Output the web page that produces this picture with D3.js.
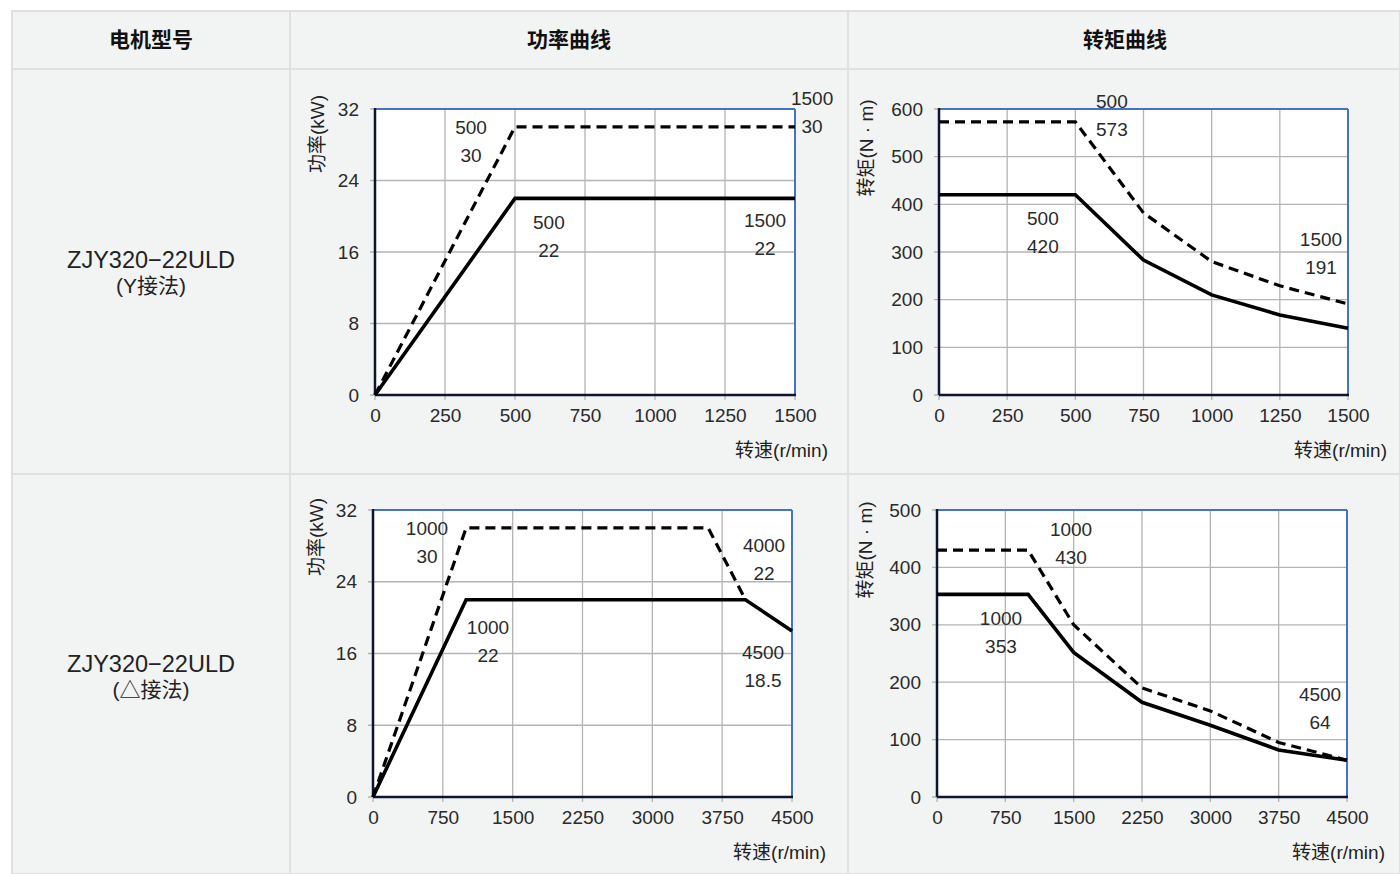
<!DOCTYPE html>
<html><head><meta charset="utf-8">
<script src="https://cdn.jsdelivr.net/npm/d3@7"></script>
<style>
html,body{margin:0;padding:0;background:#fff;}
svg{display:block;font-family:"Liberation Sans",Arial,"Noto Sans CJK SC",sans-serif;}
</style></head>
<body>
<svg id="c" width="1400" height="874"></svg>
<script>
// ---------- DATA ----------
const headers = ["电机型号", "功率曲线", "转矩曲线"];
const models = [["ZJY320\u221222ULD", "(Y接法)"], ["ZJY320\u221222ULD", "(\u25B3接法)"]];

const xTicksY = [0, 250, 500, 750, 1000, 1250, 1500];
const xTicksD = [0, 750, 1500, 2250, 3000, 3750, 4500];
const yTicksPower = [0, 8, 16, 24, 32];
const yTicksTorqueY = [0, 100, 200, 300, 400, 500, 600];
const yTicksTorqueD = [0, 100, 200, 300, 400, 500];

// Power, Y connection
const pYSpeed = [0, 500, 1500];
const pYRated = [0, 22, 22];
const pYPeak = [0, 30, 30];
// Torque, Y connection
const tYSpeed = [0, 500, 750, 1000, 1250, 1500];
const tYRated = [420, 420, 283, 210, 168, 140];
const tYPeak = [573, 573, 382, 280, 229, 191];
// Power, delta connection
const pDSpeedRated = [0, 1000, 4000, 4500];
const pDRated = [0, 22, 22, 18.5];
const pDSpeedPeak = [0, 1000, 3600, 4000];
const pDPeak = [0, 30, 30, 22];
// Torque, delta connection
const tDSpeed = [0, 1000, 1500, 2250, 3000, 3750, 4500];
const tDRated = [353, 353, 252, 165, 125, 82, 64];
const tDPeak = [430, 430, 300, 190, 150, 95, 64];

// annotation labels: [anchor speed, anchor value, line1, line2]
const annPY = [[343, 30, "500", "30"], [1561, 33.2, "1500", "30"], [621, 19.4, "500", "22"], [1393, 19.6, "1500", "22"]];
const annTY = [[634, 617, "500", "573"], [381, 371, "500", "420"], [1401, 327, "1500", "191"]];
const annPD = [[580, 30, "1000", "30"], [4200, 28.1, "4000", "22"], [1235, 19.0, "1000", "22"], [4189, 16.2, "4500", "18.5"]];
const annTD = [[1471, 467, "1000", "430"], [702, 312, "1000", "353"], [4204, 179, "4500", "64"]];

const xLabel = "转速(r/min)";
const yLabelP = "功率(kW)";
const yLabelT = "转矩(N · m)";

// ---------- TABLE ----------
const svg = d3.select("#c");
const T = {x0: 12, y0: 11, x1: 1400, y1: 874, col1: 290, col2: 848, head: 69, row: 474};
svg.append("rect").attr("x", T.x0).attr("y", T.y0).attr("width", T.x1 - T.x0).attr("height", T.y1 - T.y0)
  .attr("fill", "#f2f3f3").attr("stroke", "#dfe1e1").attr("stroke-width", 2);
const lineColor = "#dfe1e1";
[[T.col1, T.y0, T.col1, T.y1], [T.col2, T.y0, T.col2, T.y1], [T.x0, T.head, T.x1, T.head], [T.x0, T.row, T.x1, T.row]]
  .forEach(l => svg.append("line").attr("x1", l[0]).attr("y1", l[1]).attr("x2", l[2]).attr("y2", l[3])
    .attr("stroke", lineColor).attr("stroke-width", 2));

const headX = [151, 569, 1125];
headers.forEach((h, i) => svg.append("text").attr("x", headX[i]).attr("y", 47).attr("text-anchor", "middle")
  .attr("font-family", "'Noto Sans CJK SC',sans-serif").attr("font-weight", "bold").attr("font-size", 21)
  .attr("fill", "#111").text(h));

const modelY = [268, 672];
models.forEach((m, i) => {
  svg.append("text").attr("x", 151).attr("y", modelY[i]).attr("text-anchor", "middle")
    .attr("font-size", 23.5).attr("fill", "#222").text(m[0]);
  svg.append("text").attr("x", 151).attr("y", modelY[i] + 25).attr("text-anchor", "middle")
    .attr("font-family", "'Liberation Sans','Noto Sans CJK SC',sans-serif")
    .attr("font-size", 21).attr("fill", "#222").text(m[1]);
});

// ---------- CHARTS ----------
function chart(cfg) {
  const g = svg.append("g");
  const x = d3.scaleLinear().domain([cfg.xTicks[0], cfg.xTicks[cfg.xTicks.length - 1]]).range([cfg.l, cfg.r]);
  const y = d3.scaleLinear().domain([cfg.yTicks[0], cfg.yTicks[cfg.yTicks.length - 1]]).range([cfg.b, cfg.t]);
  g.append("rect").attr("x", cfg.l).attr("y", cfg.t).attr("width", cfg.r - cfg.l).attr("height", cfg.b - cfg.t).attr("fill", "#fff");
  // grid
  g.append("g").selectAll("line").data(cfg.xTicks).join("line")
    .attr("x1", d => x(d)).attr("x2", d => x(d)).attr("y1", cfg.t).attr("y2", cfg.b + 5)
    .attr("stroke", "#b4b4b4").attr("stroke-width", 1.3);
  g.append("g").selectAll("line").data(cfg.yTicks).join("line")
    .attr("x1", cfg.l - 5).attr("x2", cfg.r).attr("y1", d => y(d)).attr("y2", d => y(d))
    .attr("stroke", "#b4b4b4").attr("stroke-width", 1.3);
  // axes via d3
  const ax = g.append("g").attr("transform", `translate(0,${cfg.b})`)
    .call(d3.axisBottom(x).tickValues(cfg.xTicks).tickSize(0).tickPadding(14).tickFormat(d3.format("d")));
  ax.select(".domain").remove();
  ax.selectAll("text").attr("font-size", 19).attr("fill", "#2a2a2a").attr("font-family", "'Liberation Sans',Arial,sans-serif");
  const ay = g.append("g").attr("transform", `translate(${cfg.l},0)`)
    .call(d3.axisLeft(y).tickValues(cfg.yTicks).tickSize(0).tickPadding(16).tickFormat(d3.format("d")));
  ay.select(".domain").remove();
  ay.selectAll("text").attr("font-size", 19).attr("fill", "#2a2a2a").attr("font-family", "'Liberation Sans',Arial,sans-serif");
  // frame
  g.append("line").attr("x1", cfg.l).attr("x2", cfg.r).attr("y1", cfg.t).attr("y2", cfg.t).attr("stroke", "#4472c4").attr("stroke-width", 2);
  g.append("line").attr("x1", cfg.r).attr("x2", cfg.r).attr("y1", cfg.t).attr("y2", cfg.b).attr("stroke", "#4472c4").attr("stroke-width", 2);
  g.append("line").attr("x1", cfg.l).attr("x2", cfg.r + 1).attr("y1", cfg.b).attr("y2", cfg.b).attr("stroke", "#0d1530").attr("stroke-width", 2.5);
  g.append("line").attr("x1", cfg.l).attr("x2", cfg.l).attr("y1", cfg.t - 1).attr("y2", cfg.b).attr("stroke", "#0d1530").attr("stroke-width", 2.5);
  // series
  const line = d3.line().x(d => x(d[0])).y(d => y(d[1]));
  g.append("path").attr("d", line(d3.zip(cfg.peakX, cfg.peak))).attr("fill", "none")
    .attr("stroke", "#000").attr("stroke-width", 3.2).attr("stroke-dasharray", "10,6");
  g.append("path").attr("d", line(d3.zip(cfg.ratedX, cfg.rated))).attr("fill", "none")
    .attr("stroke", "#000").attr("stroke-width", 3.6);
  // annotations
  cfg.ann.forEach(a => {
    [a[2], a[3]].forEach((t, k) => g.append("text").attr("x", x(a[0])).attr("y", y(a[1]) + 7 + k * 28)
      .attr("text-anchor", "middle").attr("font-size", 19).attr("fill", "#2a2a2a").text(t));
  });
  // axis labels
  g.append("text").attr("x", cfg.xlx).attr("y", cfg.b + 62).attr("text-anchor", "end")
    .attr("font-family", "'Liberation Sans','Noto Sans CJK SC',sans-serif").attr("font-size", 19).attr("fill", "#222").text(xLabel);
  g.append("text").attr("transform", `translate(${cfg.ylx},${cfg.yly}) rotate(-90)`).attr("text-anchor", "middle")
    .attr("dy", "0.35em").attr("font-family", "'Liberation Sans','Noto Sans CJK SC',sans-serif").attr("font-size", 19).attr("fill", "#222").text(cfg.ylabel);
}

chart({l: 375, r: 795, t: 109, b: 395, xTicks: xTicksY, yTicks: yTicksPower,
  ratedX: pYSpeed, rated: pYRated, peakX: pYSpeed, peak: pYPeak, ann: annPY,
  xlx: 828, ylx: 317, yly: 134, ylabel: yLabelP});
chart({l: 939, r: 1348, t: 109, b: 395, xTicks: xTicksY, yTicks: yTicksTorqueY,
  ratedX: tYSpeed, rated: tYRated, peakX: tYSpeed, peak: tYPeak, ann: annTY,
  xlx: 1387, ylx: 866, yly: 148, ylabel: yLabelT});
chart({l: 373, r: 792, t: 510, b: 797, xTicks: xTicksD, yTicks: yTicksPower,
  ratedX: pDSpeedRated, rated: pDRated, peakX: pDSpeedPeak, peak: pDPeak, ann: annPD,
  xlx: 826, ylx: 316, yly: 537, ylabel: yLabelP});
chart({l: 937, r: 1347, t: 510, b: 797, xTicks: xTicksD, yTicks: yTicksTorqueD,
  ratedX: tDSpeed, rated: tDRated, peakX: tDSpeed, peak: tDPeak, ann: annTD,
  xlx: 1385, ylx: 865, yly: 550, ylabel: yLabelT});
</script>
</body></html>
